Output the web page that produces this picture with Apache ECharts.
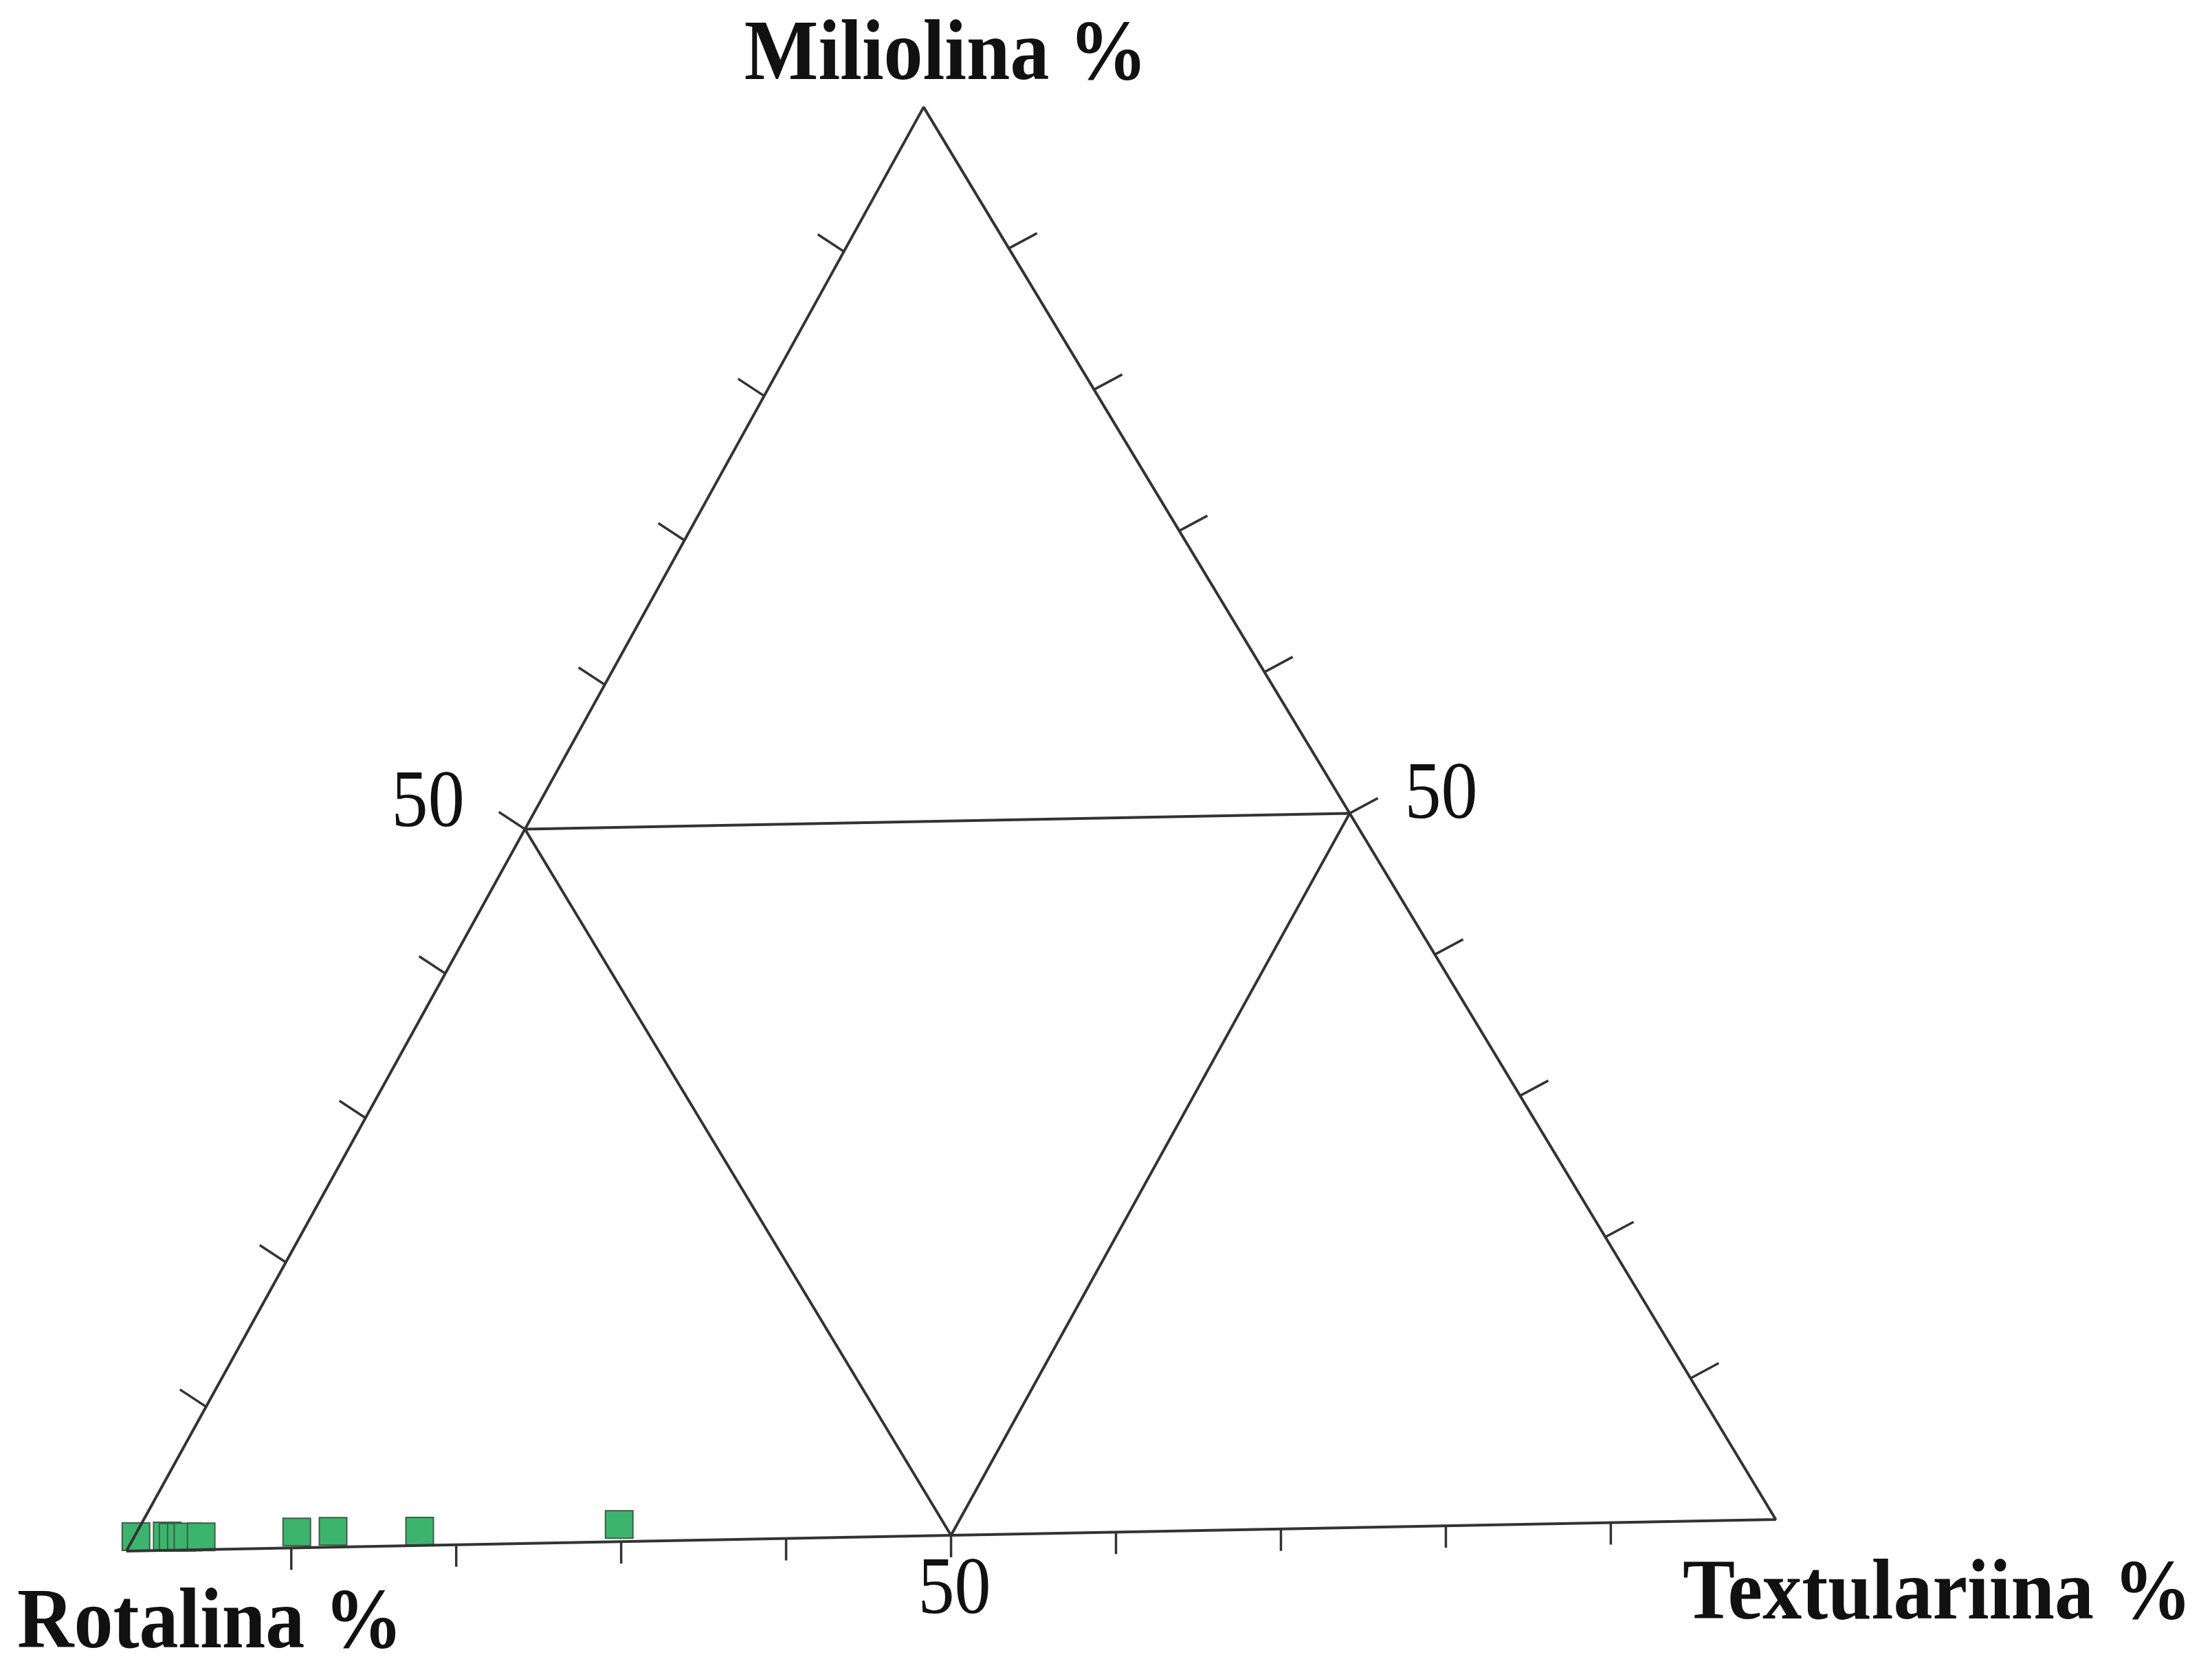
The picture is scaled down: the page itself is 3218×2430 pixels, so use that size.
<!DOCTYPE html>
<html>
<head>
<meta charset="utf-8">
<title>Rotalina / Textulariina / Miliolina</title>
<script src="https://cdn.jsdelivr.net/npm/echarts@6/dist/echarts.min.js"></script>
<style>
  html, body { margin: 0; padding: 0; background: #fff; }
  #chart { width: 3218px; height: 2430px; }
</style>
</head>
<body>
<div id="chart"></div>
<script>
// sample compositions in %
const rotalina     = [98.9, 97.0, 96.7, 96.2, 95.8, 95.0, 89.1, 86.9, 81.7, 69.5];
const textulariina = [0.1, 2.0, 2.4, 2.9, 3.3, 4.1, 9.8, 12.0, 17.3, 29.3];
const miliolina    = [1.0, 1.0, 0.9, 0.9, 0.9, 0.9, 1.1, 1.1, 1.0, 1.2];

const tickValues = [10, 20, 30, 40, 50, 60, 70, 80, 90];
const tickLabels = ['', '', '', '', '50', '', '', '', ''];
const axisTitles = ['Rotalina %', 'Textulariina %', 'Miliolina %'];

const LINE = '#333';
const TITLE_FONT = 'bold 124px "Liberation Serif", "Times New Roman", serif';
const LABEL_FONT = '118px "Liberation Serif", "Times New Roman", serif';

// the figure is a scan, turned by about one degree
const TILT = 1.1 * Math.PI / 180;

// (textulariina, miliolina) -> plane, rotalina is what is left
function toXY(t, m) {
  const x0 = t + m / 2;
  const y0 = m * Math.sqrt(3) / 2;
  return [
    x0 * Math.cos(TILT) - y0 * Math.sin(TILT),
    x0 * Math.sin(TILT) + y0 * Math.cos(TILT)
  ];
}

const outline = [[0, 0], [100, 0], [0, 100], [0, 0]].map(p => toXY(p[0], p[1]));
const inner = [[0, 50], [50, 50], [50, 0], [0, 50]].map(p => toXY(p[0], p[1]));

const ticks = [];
tickValues.forEach((v, i) => {
  ticks.push({ pos: toXY(v, 0), edge: 'bottom', label: tickLabels[i] });
  ticks.push({ pos: toXY(0, v), edge: 'left', label: tickLabels[i] });
  ticks.push({ pos: toXY(100 - v, v), edge: 'right', label: tickLabels[i] });
});

// tick stroke and label offset, in pixels
const tickDir = { bottom: [0, 32], left: [-38, -25], right: [41, -22] };
const labelAt = {
  bottom: { dx: 5, dy: 82, align: 'center' },
  left: { dx: -88, dy: -35, align: 'right' },
  right: { dx: 80, dy: -24, align: 'left' }
};

const samples = rotalina.map((r, i) => toXY(textulariina[i], miliolina[i]));

const chart = echarts.init(document.getElementById('chart'));

chart.setOption({
  animation: false,
  backgroundColor: '#fff',
  grid: { left: 15.8, right: 10.2, top: 1, bottom: 5 },
  xAxis: { type: 'value', min: -7, max: 126, show: false },
  yAxis: { type: 'value', min: -7, max: 94, show: false },
  graphic: [
    {
      type: 'text', x: 1376, y: 83, scaleX: 0.92,
      style: { text: axisTitles[2], font: TITLE_FONT, fill: '#111', align: 'center', verticalAlign: 'middle' }
    },
    {
      type: 'text', x: 25, y: 2365, scaleX: 0.92,
      style: { text: axisTitles[0], font: TITLE_FONT, fill: '#111', align: 'left', verticalAlign: 'middle' }
    },
    {
      type: 'text', x: 2448, y: 2323, scaleX: 0.92,
      style: { text: axisTitles[1], font: TITLE_FONT, fill: '#111', align: 'left', verticalAlign: 'middle' }
    }
  ],
  series: [
    {
      type: 'line',
      data: outline,
      symbol: 'none',
      silent: true,
      lineStyle: { color: LINE, width: 4 }
    },
    {
      type: 'line',
      data: inner,
      symbol: 'none',
      silent: true,
      lineStyle: { color: LINE, width: 4 }
    },
    {
      type: 'custom',
      data: ticks.map(t => t.pos),
      silent: true,
      renderItem(params, api) {
        const tk = ticks[params.dataIndex];
        const p = api.coord([api.value(0), api.value(1)]);
        const d = tickDir[tk.edge];
        const children = [{
          type: 'line',
          shape: { x1: p[0], y1: p[1], x2: p[0] + d[0], y2: p[1] + d[1] },
          style: { stroke: LINE, lineWidth: 3.5 }
        }];
        if (tk.label) {
          const l = labelAt[tk.edge];
          children.push({
            type: 'text',
            x: p[0] + l.dx,
            y: p[1] + l.dy,
            scaleX: 0.9,
            style: { text: tk.label, font: LABEL_FONT, fill: '#111', align: l.align, verticalAlign: 'middle' }
          });
        }
        return { type: 'group', children };
      }
    },
    {
      type: 'scatter',
      data: samples,
      symbol: 'rect',
      symbolSize: 40,
      itemStyle: { color: '#3db46d', borderColor: '#3f5e48', borderWidth: 2, opacity: 1 }
    }
  ]
});

window.addEventListener('resize', () => chart.resize());
</script>
</body>
</html>
